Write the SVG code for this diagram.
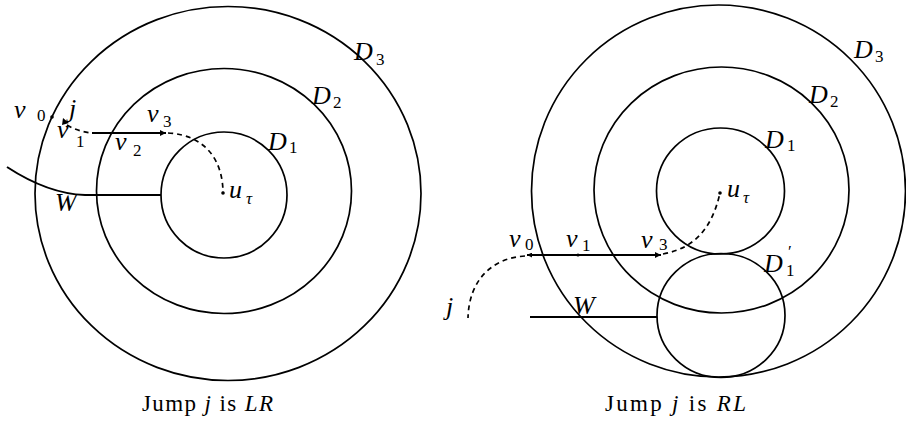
<svg xmlns="http://www.w3.org/2000/svg" width="906" height="423" viewBox="0 0 906 423">
<defs>
<style>
.c{fill:none;stroke:#000;stroke-width:1.7}
.ln{fill:none;stroke:#000;stroke-width:2}
.dash{fill:none;stroke:#000;stroke-width:1.7;stroke-dasharray:5 4}
.lab{font-family:"Liberation Serif","DejaVu Serif",serif;font-style:italic;font-size:26px;fill:#000}
.sub{font-family:"Liberation Serif","DejaVu Serif",serif;font-size:17px;fill:#000}
.subi{font-family:"Liberation Serif","DejaVu Serif",serif;font-style:italic;font-size:17px;fill:#000}
.cap{font-family:"Liberation Serif","DejaVu Serif",serif;font-size:23px;fill:#000}
</style>
<marker id="arr" viewBox="0 0 10 10" refX="10" refY="5" markerWidth="8" markerHeight="6" markerUnits="userSpaceOnUse" orient="auto">
<path d="M0,0 L10,5 L0,10 Z" fill="#000"/>
</marker>
<marker id="arrs" viewBox="0 0 10 10" refX="10" refY="5" markerWidth="7" markerHeight="5" markerUnits="userSpaceOnUse" orient="auto-start-reverse">
<path d="M0,0 L10,5 L0,10 Z" fill="#000"/>
</marker>
</defs>
<rect width="906" height="423" fill="#fff"/>

<!-- Left panel -->
<g id="left-D3"><ellipse class="c" cx="228" cy="193.5" rx="193" ry="187"/>
<text class="lab" x="354" y="60">D</text><text class="sub" x="376" y="65">3</text></g>
<g id="left-D2"><ellipse class="c" cx="224" cy="191" rx="127.5" ry="122.5"/>
<text class="lab" x="312" y="104">D</text><text class="sub" x="333" y="108">2</text></g>
<g id="left-D1"><ellipse class="c" cx="224" cy="195" rx="63" ry="63"/>
<text class="lab" x="268" y="150">D</text><text class="sub" x="289" y="153">1</text></g>
<g id="left-v0"><circle cx="52" cy="117" r="1.8"/>
<text class="lab" x="14" y="118">v</text><text class="sub" x="37" y="121">0</text></g>
<g id="left-j"><text class="lab" x="69" y="117">j</text>
<polygon points="62,125 63,118 69,123" fill="#000"/></g>
<g id="left-v1"><text class="lab" x="57" y="138">v</text><text class="sub" x="76" y="147">1</text></g>
<g id="left-v2"><text class="lab" x="115" y="150">v</text><text class="sub" x="133" y="156">2</text></g>
<g id="left-v3"><text class="lab" x="147" y="122">v</text><text class="sub" x="163" y="127">3</text></g>
<g id="left-u"><circle cx="223" cy="193" r="1.8"/>
<text class="lab" x="229" y="198">u</text><text class="subi" x="246" y="204">τ</text></g>
<g id="left-W"><text class="lab" x="55" y="211">W</text></g>

<g id="left-connectors">
<path class="ln" d="M7,167 C30,182 55,194 85,195 L161,195"/>
<path class="dash" d="M67,125 C75,130 83,132 92,133"/>
<path class="ln" d="M92,133 L166,133" marker-end="url(#arr)"/>
<path class="dash" d="M168,133 C205,135 223,160 223,193"/>
</g>
<text class="cap" x="142" y="411" textLength="131" lengthAdjust="spacing">Jump <tspan font-style="italic">j</tspan> is <tspan font-style="italic">LR</tspan></text>

<!-- Right panel -->
<g id="right-D3"><ellipse class="c" cx="718.5" cy="191" rx="187" ry="186"/>
<text class="lab" x="854" y="58">D</text><text class="sub" x="875" y="62">3</text></g>
<g id="right-D2"><ellipse class="c" cx="721.5" cy="190" rx="127.5" ry="123"/>
<text class="lab" x="809" y="103">D</text><text class="sub" x="830" y="107">2</text></g>
<g id="right-D1"><ellipse class="c" cx="720.5" cy="191" rx="64" ry="63"/>
<text class="lab" x="765" y="148">D</text><text class="sub" x="787" y="151">1</text></g>
<g id="right-D1p"><ellipse class="c" cx="721" cy="315.5" rx="64" ry="62"/>
<text class="lab" x="764" y="272">D</text><text class="sub" x="786" y="276">1<tspan x="788" y="257">′</tspan></text></g>
<g id="right-u"><circle cx="720" cy="193" r="1.8"/>
<text class="lab" x="727" y="197">u</text><text class="subi" x="743" y="203">τ</text></g>
<g id="right-v0"><text class="lab" x="509" y="247">v</text><text class="sub" x="525" y="250">0</text></g>
<g id="right-v1"><circle cx="578" cy="255" r="1.6"/>
<text class="lab" x="566" y="247">v</text><text class="sub" x="582" y="251">1</text></g>
<g id="right-v3"><text class="lab" x="641" y="248">v</text><text class="sub" x="659" y="250">3</text></g>
<g id="right-W"><text class="lab" x="573" y="314">W</text></g>
<g id="right-j"><text class="lab" x="446" y="315">j</text></g>

<g id="right-connectors">
<path class="ln" d="M527,255 L661,255" marker-start="url(#arrs)" marker-end="url(#arr)"/>
<path class="dash" d="M663,254 C695,248 712,228 720,193"/>
<path class="dash" d="M525,256 C492,258 469,280 468,318"/>
<path class="ln" d="M530,317 L657,317"/>
</g>
<text class="cap" x="605" y="411" textLength="141" lengthAdjust="spacing">Jump <tspan font-style="italic">j</tspan> is <tspan font-style="italic">RL</tspan></text>
</svg>
